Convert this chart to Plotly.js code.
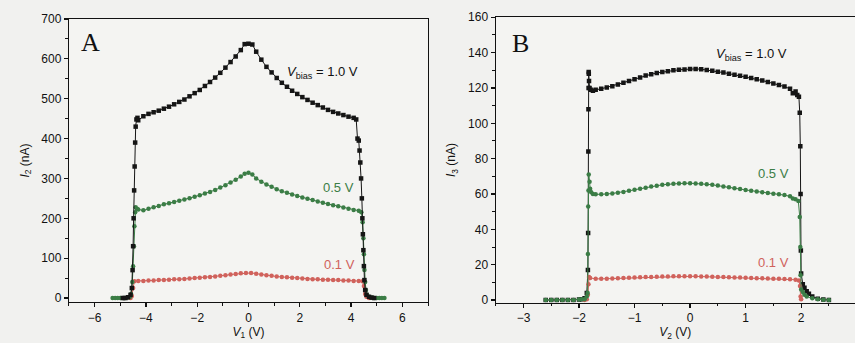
<!DOCTYPE html>
<html>
<head>
<meta charset="utf-8">
<script src="https://cdn.plot.ly/plotly-3.0.1.min.js"></script>
<style>html,body{margin:0;padding:0;background:#f1f1ef;overflow:hidden;}#chart{width:855px;height:343px;}</style>
</head>
<body>
<div id="chart"></div>
<script>
// Panel A: I2 vs V1
const xA_black = [-4.9,-4.8,-4.7,-4.6,-4.55,-4.52,-4.5,-4.48,-4.46,-4.44,-4.42,-4.4,-4.37,-4.33,-4.3,-4.1,-3.9,-3.7,-3.5,-3.3,-3.1,-2.9,-2.7,-2.5,-2.3,-2.1,-1.9,-1.7,-1.5,-1.3,-1.1,-0.9,-0.7,-0.5,-0.3,-0.15,0,0.15,0.3,0.5,0.7,0.9,1.1,1.3,1.5,1.7,1.9,2.1,2.3,2.5,2.7,2.9,3.1,3.3,3.5,3.7,3.9,4.1,4.2,4.25,4.3,4.33,4.36,4.39,4.42,4.44,4.46,4.48,4.5,4.52,4.55,4.6,4.7,4.8,4.9];
const yA_black = [0,0,2,8,25,70,130,200,270,330,390,430,448,452,446,456,462,466,470,475,480,486,492,498,506,514,522,532,542,553,565,578,592,606,622,637,638,636,618,598,580,566,552,540,530,520,512,504,497,490,484,478,472,467,463,459,455,452,448,400,395,370,340,300,250,200,160,120,80,45,20,8,3,1,0];
const xA_green = [-5.3,-5.2,-5.1,-5.0,-4.9,-4.8,-4.7,-4.62,-4.58,-4.53,-4.5,-4.47,-4.45,-4.42,-4.4,-4.35,-4.3,-4.1,-3.9,-3.7,-3.5,-3.3,-3.1,-2.9,-2.7,-2.5,-2.3,-2.1,-1.9,-1.7,-1.5,-1.3,-1.1,-0.9,-0.7,-0.5,-0.3,-0.15,0,0.15,0.3,0.5,0.7,0.9,1.1,1.3,1.5,1.7,1.9,2.1,2.3,2.5,2.7,2.9,3.1,3.3,3.5,3.7,3.9,4.1,4.3,4.4,4.45,4.48,4.5,4.52,4.55,4.58,4.62,4.7,4.8,4.9,5.0,5.1,5.2,5.3];
const yA_green = [0,0,0,0,0,0,1,3,10,40,80,130,180,215,228,224,222,220,224,228,231,235,238,241,244,247,250,254,258,262,266,271,277,283,290,297,305,312,314,310,300,292,285,279,273,268,264,260,256,252,249,246,242,239,236,233,230,227,224,221,219,215,190,150,110,70,40,20,8,3,1,0,0,0,0,0];
const xA_red = [-4.6,-4.55,-4.5,-4.45,-4.3,-4.1,-3.9,-3.7,-3.5,-3.3,-3.1,-2.9,-2.7,-2.5,-2.3,-2.1,-1.9,-1.7,-1.5,-1.3,-1.1,-0.9,-0.7,-0.5,-0.3,-0.1,0.1,0.3,0.5,0.7,0.9,1.1,1.3,1.5,1.7,1.9,2.1,2.3,2.5,2.7,2.9,3.1,3.3,3.5,3.7,3.9,4.1,4.3,4.45,4.5,4.55,4.6,4.7];
const yA_red = [0,5,25,42,43,43,44,44,45,45,46,47,47,48,49,50,51,52,53,54,56,57,59,60,62,63,63,61,59,57,56,54,53,52,51,50,49,48,47,47,46,46,45,45,44,44,43,43,42,30,10,3,0];

// Panel B: I3 vs V2
const xB_black = [-2.6,-2.5,-2.4,-2.3,-2.2,-2.1,-2.0,-1.95,-1.9,-1.86,-1.84,-1.836,-1.832,-1.83,-1.828,-1.826,-1.824,-1.82,-1.81,-1.79,-1.75,-1.7,-1.6,-1.5,-1.4,-1.3,-1.2,-1.1,-1.0,-0.9,-0.8,-0.7,-0.6,-0.5,-0.4,-0.3,-0.2,-0.1,0,0.1,0.2,0.3,0.4,0.5,0.6,0.7,0.8,0.9,1.0,1.1,1.2,1.3,1.4,1.5,1.6,1.7,1.8,1.85,1.9,1.93,1.96,1.975,1.985,1.99,1.995,2.0,2.03,2.06,2.1,2.14,2.2,2.3,2.4,2.5];
const yB_black = [0,0,0,0,0,0,0.3,0.5,1,4,17,38,84,108,120,129,128,124,120,119,118.5,119,119.5,120.3,121,122,123,124,125,126,127,127.8,128.5,129,129.5,130,130.3,130.5,130.7,130.8,130.6,130.2,129.8,129.2,128.7,128.1,127.5,126.9,126.3,125.6,124.9,124.2,123.4,122.6,121.7,120.8,119.5,117,118,116,115,106,87,60,28,15,9,7,5,3.5,2,0.8,0.3,0];
const xB_green = [-2.6,-2.5,-2.4,-2.3,-2.2,-2.1,-2.0,-1.95,-1.9,-1.86,-1.845,-1.84,-1.835,-1.83,-1.825,-1.81,-1.8,-1.78,-1.75,-1.7,-1.6,-1.5,-1.4,-1.3,-1.2,-1.1,-1.0,-0.9,-0.8,-0.7,-0.6,-0.5,-0.4,-0.3,-0.2,-0.1,0,0.1,0.2,0.3,0.4,0.5,0.6,0.7,0.8,0.9,1.0,1.1,1.2,1.3,1.4,1.5,1.6,1.7,1.8,1.85,1.9,1.95,1.975,1.985,1.99,2.0,2.03,2.06,2.1,2.2,2.3,2.4,2.5];
const yB_green = [0,0,0,0,0,0,0.3,0.5,0.5,2,4,26,53,62,71,67,63,61,60,59.8,59.8,60,60.3,60.7,61.2,61.8,62.4,63,63.6,64.2,64.7,65.2,65.5,65.8,66,66.1,66.1,66,65.8,65.5,65.2,64.8,64.3,63.8,63.3,62.8,62.3,61.8,61.4,61,60.6,60.2,59.8,59.4,58.8,57.5,57,56,47,30,14,6,4.5,3,2,1,0.5,0.2,0];
const xB_red = [-1.9,-1.86,-1.84,-1.83,-1.82,-1.8,-1.7,-1.6,-1.5,-1.4,-1.3,-1.2,-1.1,-1.0,-0.9,-0.8,-0.7,-0.6,-0.5,-0.4,-0.3,-0.2,-0.1,0,0.1,0.2,0.3,0.4,0.5,0.6,0.7,0.8,0.9,1.0,1.1,1.2,1.3,1.4,1.5,1.6,1.7,1.8,1.9,1.96,1.98,1.99,2.0];
const yB_red = [0,0.5,3,9,13,12.5,12,12,12.1,12.2,12.3,12.5,12.6,12.8,12.9,13,13.1,13.2,13.3,13.3,13.4,13.4,13.4,13.4,13.4,13.3,13.3,13.2,13.1,13,12.9,12.8,12.7,12.6,12.5,12.4,12.3,12.2,12.1,12,11.9,11.8,11.5,11,8,2,0.5];

const seriesLabels = ["1.0 V", "0.5 V", "0.1 V"];
const panelLetters = ["A", "B"];

const BLACK = "#151515", GREEN = "#3b7d46", RED = "#d0625c";
const SANS = "Liberation Sans, Arial, sans-serif";
const TICKFONT = {family: SANS, size: 12, color: "#111"};

function tr(x, y, color, sym, xa, ya, name) {
  return {x: x, y: y, type: "scatter", mode: "lines+markers", name: name,
    xaxis: xa, yaxis: ya, showlegend: false, hoverinfo: "skip",
    line: {color: color, width: 1},
    marker: {color: color, size: 4.5, symbol: sym}};
}

const data = [
  tr(xA_red, yA_red, RED, "circle", "x", "y", seriesLabels[2]),
  tr(xA_green, yA_green, GREEN, "circle", "x", "y", seriesLabels[1]),
  tr(xA_black, yA_black, BLACK, "square", "x", "y", seriesLabels[0]),
  tr(xB_black, yB_black, BLACK, "square", "x2", "y2", seriesLabels[0]),
  tr(xB_red, yB_red, RED, "circle", "x2", "y2", seriesLabels[2]),
  tr(xB_green, yB_green, GREEN, "circle", "x2", "y2", seriesLabels[1])
];

const axBase = {
  showline: true, linecolor: "#111", linewidth: 1.2, mirror: true,
  ticks: "outside", ticklen: 4, tickwidth: 1.2, tickcolor: "#111",
  showgrid: false, zeroline: false, tickfont: TICKFONT,
  minor: {ticks: "outside", ticklen: 2.5, tickwidth: 1, tickcolor: "#111"}
};
const titleFont = {family: SANS, size: 12, color: "#111"};
const annFont = {family: SANS, size: 13, color: "#111"};

const layout = {
  width: 855, height: 343,
  margin: {l: 0, r: 0, t: 0, b: 0},
  paper_bgcolor: "#f1f1ef", plot_bgcolor: "#f4f4f2",
  xaxis: Object.assign({}, axBase, {domain: [0.0807, 0.5006], range: [-7, 7], dtick: 2, anchor: "y",
    minor: Object.assign({}, axBase.minor, {dtick: 1}),
    title: {text: "<i>V</i><sub>1</sub> (V)", font: titleFont, standoff: 3}}),
  yaxis: Object.assign({}, axBase, {domain: [0.1195, 0.9446], range: [-10, 700], dtick: 100, anchor: "x",
    minor: Object.assign({}, axBase.minor, {dtick: 50}),
    title: {text: "<i>I</i><sub>2</sub> (nA)", font: titleFont, standoff: 9}}),
  xaxis2: Object.assign({}, axBase, {domain: [0.5798, 1.0], range: [-3.5, 2.97], dtick: 1, anchor: "y2",
    minor: Object.assign({}, axBase.minor, {dtick: 0.5}),
    title: {text: "<i>V</i><sub>2</sub> (V)", font: titleFont, standoff: 3}}),
  yaxis2: Object.assign({}, axBase, {domain: [0.1175, 0.9496], range: [-1.5, 160], dtick: 20, anchor: "x2",
    minor: Object.assign({}, axBase.minor, {dtick: 10}),
    title: {text: "<i>I</i><sub>3</sub> (nA)", font: titleFont, standoff: 9}}),
  annotations: [
    {xref: "x", yref: "y", x: -6.15, y: 642, text: panelLetters[0], showarrow: false,
      font: {family: "Liberation Serif, Times New Roman, serif", size: 26, color: "#111"}},
    {xref: "x2", yref: "y2", x: -3.06, y: 145, text: panelLetters[1], showarrow: false,
      font: {family: "Liberation Serif, Times New Roman, serif", size: 26, color: "#111"}},
    {xref: "x", yref: "y", x: 2.87, y: 567, text: "<i>V</i><sub>bias</sub> = " + seriesLabels[0], showarrow: false, font: annFont},
    {xref: "x", yref: "y", x: 3.5, y: 278, text: seriesLabels[1], showarrow: false,
      font: {family: SANS, size: 13, color: GREEN}},
    {xref: "x", yref: "y", x: 3.54, y: 85, text: seriesLabels[2], showarrow: false,
      font: {family: SANS, size: 13, color: RED}},
    {xref: "x2", yref: "y2", x: 1.11, y: 139, text: "<i>V</i><sub>bias</sub> = " + seriesLabels[0], showarrow: false, font: annFont},
    {xref: "x2", yref: "y2", x: 1.5, y: 71.6, text: seriesLabels[1], showarrow: false,
      font: {family: SANS, size: 13, color: GREEN}},
    {xref: "x2", yref: "y2", x: 1.5, y: 21.4, text: seriesLabels[2], showarrow: false,
      font: {family: SANS, size: 13, color: RED}}
  ]
};

Plotly.newPlot("chart", data, layout, {displayModeBar: false, staticPlot: true});
</script>
</body>
</html>
